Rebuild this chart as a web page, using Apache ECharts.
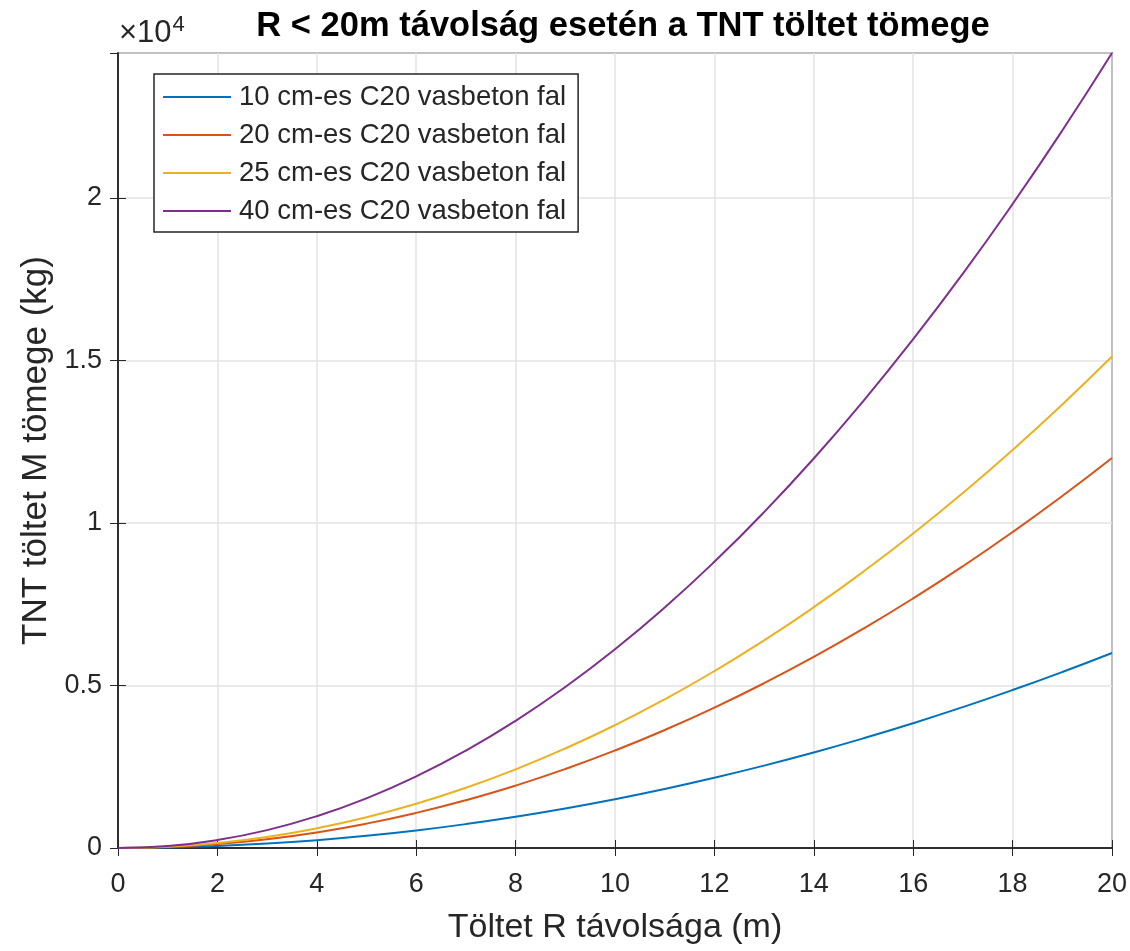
<!DOCTYPE html>
<html>
<head>
<meta charset="utf-8">
<script src="https://cdn.jsdelivr.net/npm/echarts@6/dist/echarts.min.js"></script>
<style>
  html, body { margin: 0; padding: 0; background: #fff; }
  #chart { width: 1130px; height: 951px; }
</style>
</head>
<body>
<div id="chart"></div>
<script>
  // R távolság (m)
  var rValues = [0, 1, 2, 3, 4, 5, 6, 7, 8, 9, 10, 11, 12, 13, 14, 15, 16, 17, 18, 19, 20]
  // TNT tömeg (kg)
  var fal10 = [0, 15, 60, 135, 240, 375, 540, 735, 960, 1215, 1500, 1815, 2160, 2535, 2940, 3375, 3840, 4335, 4860, 5415, 6000]
  var fal20 = [0, 30, 120, 270, 480, 750, 1080, 1470, 1920, 2430, 3000, 3630, 4320, 5070, 5880, 6750, 7680, 8670, 9720, 10830, 12000]
  var fal25 = [0, 38, 151, 340, 605, 945, 1361, 1852, 2419, 3062, 3780, 4574, 5443, 6388, 7409, 8505, 9677, 10924, 12247, 13646, 15120]
  var fal40 = [0, 61, 245, 550, 978, 1529, 2201, 2996, 3914, 4953, 6115, 7399, 8806, 10334, 11985, 13759, 15654, 17672, 19813, 22075, 24460]
  var seriesNames = ['10 cm-es C20 vasbeton fal', '20 cm-es C20 vasbeton fal', '25 cm-es C20 vasbeton fal', '40 cm-es C20 vasbeton fal']
  var colors = ['#0072BD', '#D95319', '#EDB120', '#7E2F8E']

  function pairs(ys) {
    var out = []
    for (var i = 0; i < rValues.length; i++) {
      out.push([rValues[i], ys[i]])
    }
    return out
  }

  var font = 'Liberation Sans, Arial, Helvetica, sans-serif'
  var dark = '#262626'
  var gridLine = { show: true, lineStyle: { color: '#e3e3e3', width: 1.5 } }
  var tick = { show: true, inside: true, length: 8, lineStyle: { color: dark } }

  var myChart = echarts.init(document.getElementById('chart'))
  myChart.setOption({
    animation: false,
    color: colors,
    title: {
      text: 'R < 20m távolság esetén a TNT töltet tömege',
      left: 618,
      textAlign: 'center',
      top: 4,
      textStyle: { fontFamily: font, fontSize: 34.5, fontWeight: 'bold', color: '#000' }
    },
    graphic: [{
      type: 'text',
      left: 119,
      top: 14,
      style: {
        text: '×10{s|4}',
        font: '31px ' + font,
        fill: dark,
        rich: { s: { fontSize: 22, verticalAlign: 'top', padding: [0, 0, 17, 1], fill: dark, fontFamily: font } }
      }
    }],
    legend: {
      orient: 'vertical',
      left: 154,
      top: 74,
      padding: [9, 12, 7, 9],
      itemGap: 10,
      itemWidth: 68,
      itemHeight: 2,
      icon: 'rect',
      backgroundColor: '#fff',
      borderColor: dark,
      borderWidth: 1.5,
      textStyle: { fontFamily: font, fontSize: 27.5, color: dark, padding: [0, 0, 0, 3] },
      data: seriesNames
    },
    grid: {
      left: 118,
      right: 18,
      top: 53,
      bottom: 103,
      show: true,
      borderColor: dark,
      borderWidth: 1.5
    },
    xAxis: [{
      type: 'value',
      min: 0,
      max: 20,
      interval: 2,
      name: 'Töltet R távolsága (m)',
      nameLocation: 'middle',
      nameGap: 63,
      nameTextStyle: { fontFamily: font, fontSize: 34, color: dark },
      axisLine: { lineStyle: { color: dark, width: 1.5 } },
      axisTick: tick,
      axisLabel: { fontFamily: font, fontSize: 27, color: dark, margin: 23 },
      splitLine: gridLine
    }, {
      type: 'value',
      position: 'top',
      min: 0,
      max: 20,
      interval: 2,
      axisLine: { show: true, lineStyle: { color: dark, width: 1.5 } },
      axisTick: tick,
      axisLabel: { show: false },
      splitLine: { show: false }
    }],
    yAxis: [{
      type: 'value',
      min: 0,
      max: 24460,
      interval: 5000,
      name: 'TNT töltet M tömege (kg)',
      nameLocation: 'middle',
      nameGap: 64,
      nameTextStyle: { fontFamily: font, fontSize: 35, color: dark },
      axisLine: { show: true, lineStyle: { color: dark, width: 1.5 } },
      axisTick: tick,
      axisLabel: {
        fontFamily: font, fontSize: 27, color: dark, margin: 16,
        showMaxLabel: false,
        formatter: function (v) { return String(v / 10000) }
      },
      splitLine: gridLine
    }, {
      type: 'value',
      position: 'right',
      min: 0,
      max: 24460,
      interval: 5000,
      axisLine: { show: true, lineStyle: { color: dark, width: 1.5 } },
      axisTick: tick,
      axisLabel: { show: false },
      splitLine: { show: false }
    }],
    series: [
      { name: seriesNames[0], type: 'line', smooth: true, showSymbol: false, lineStyle: { width: 2 }, data: pairs(fal10) },
      { name: seriesNames[1], type: 'line', smooth: true, showSymbol: false, lineStyle: { width: 2 }, data: pairs(fal20) },
      { name: seriesNames[2], type: 'line', smooth: true, showSymbol: false, lineStyle: { width: 2 }, data: pairs(fal25) },
      { name: seriesNames[3], type: 'line', smooth: true, showSymbol: false, lineStyle: { width: 2 }, data: pairs(fal40) }
    ]
  })
</script>
</body>
</html>
